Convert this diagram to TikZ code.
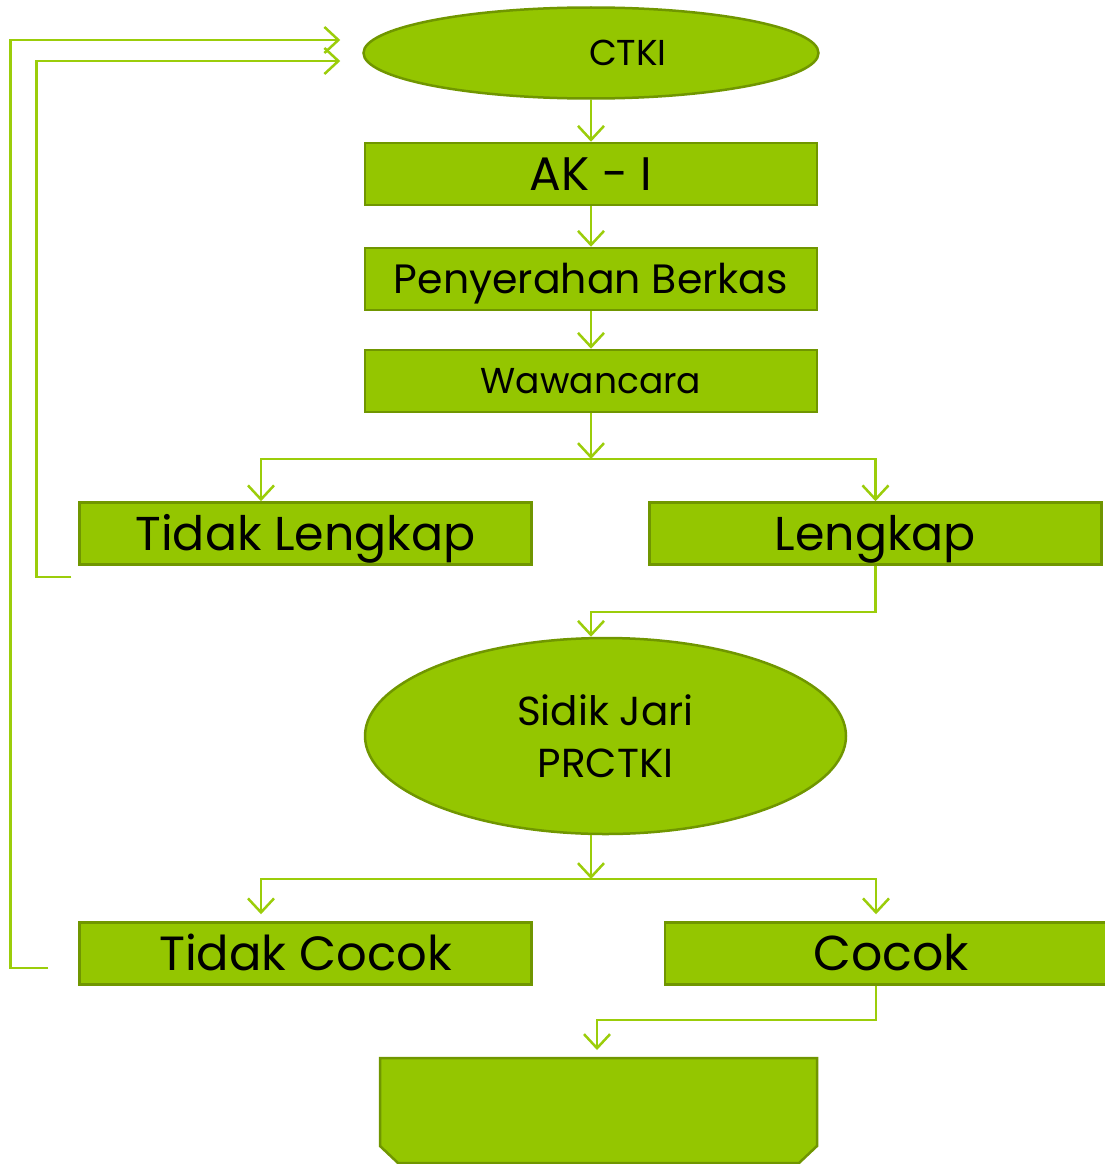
\documentclass[tikz,border=0pt]{standalone}
\usepackage{fontspec}
\setmainfont{Poppins}
\usetikzlibrary{arrows.meta,shapes.geometric}

\definecolor{daun}{RGB}{148,198,0}
\definecolor{tepi}{RGB}{112,150,0}
\definecolor{garis}{RGB}{155,205,10}

\tikzset{
  isi/.style={draw=tepi, fill=daun, line width=2.5pt},
  kotak/.style={isi, minimum width=452pt, minimum height=62pt, inner sep=0pt},
  bulat/.style={isi, ellipse, inner sep=0pt},
  panah/.style={draw=garis, line width=2.5pt,
    -{Straight Barb[length=14pt,width=26pt]}},
  huruf/.style={font=\fontsize{#1}{#1}\selectfont, text height={0.7*#1pt},
    text depth=0pt}
}

\begin{document}
\begin{tikzpicture}[x=1pt, y=-1pt]
      \useasboundingbox (0,0) rectangle (1105,1164);
      % kolom tengah
      \node[bulat, minimum width=455pt, minimum height=91pt] (ctki) at (591,53) {};
      \node[huruf=36] (ctkiteks) at (628,53) {CTKI};
      \node[kotak, huruf=47] (ak) at (591,174) {AK - I};
      \node[kotak, huruf=41] (berkas) at (591,279) {Penyerahan Berkas};
      \node[kotak, huruf=36] (waw) at (591,381) {Wawancara};
      \coordinate (pisah1) at (591,459);
      % hasil wawancara
      \node[kotak, huruf=47.5] (tl) at (305.5,533.5) {Tidak Lengkap};
      \node[kotak, huruf=47.5] (lk) at (875.5,533.5) {Lengkap};
      \node[bulat, minimum width=481pt, minimum height=196pt, align=center,
        font=\fontsize{40.5}{52}\selectfont] (sidik) at (605.5,736) {Sidik Jari\\PRCTKI};
      \coordinate (pisah2) at (591,879);
      % hasil sidik jari
      \node[kotak, huruf=48] (tc) at (305.5,953.5) {Tidak Cocok};
      \node[kotak, huruf=49] (ck) at (891,953.5) {Cocok};
      \draw[isi] (380,1058) -- (817,1058) -- (817,1146) -- (799,1163)
        -- (398,1163) -- (380,1146) -- cycle;
      \coordinate (akhir) at (597,1058);

      \draw[panah] (ctki) -- (ak);
      \draw[panah] (ak) -- (berkas);
      \draw[panah] (berkas) -- (waw);
      \draw[panah] (waw) -- (pisah1);
      \draw[panah] (pisah1) -| ([xshift=-44.5pt]tl.north);
      \draw[panah] (pisah1) -| (lk.north);
      \draw[panah] (lk.south) -- ++(0,46) -| ([xshift=-14.5pt]sidik.north);
      \draw[panah] ([xshift=-14.5pt]sidik.south) -- (pisah2);
      \draw[panah, shorten >=7pt] (pisah2) -| ([xshift=-44.5pt]tc.north);
      \draw[panah, shorten >=7pt] (pisah2) -| ([xshift=-15pt]ck.north);
      \draw[panah, shorten >=8pt] ([xshift=-15pt]ck.south) -- ++(0,34) -| (akhir);
      % kembali ke CTKI
      \draw[panah] ([shift={(-7,11)}]tl.south west) -- ++(-35,0)
        |- ([shift={(-22,8)}]ctki.west);
      \draw[panah] ([shift={(-30,14.5)}]tc.west) -- ++(-38,0)
        |- ([shift={(-22,-13)}]ctki.west);
\end{tikzpicture}
\end{document}
